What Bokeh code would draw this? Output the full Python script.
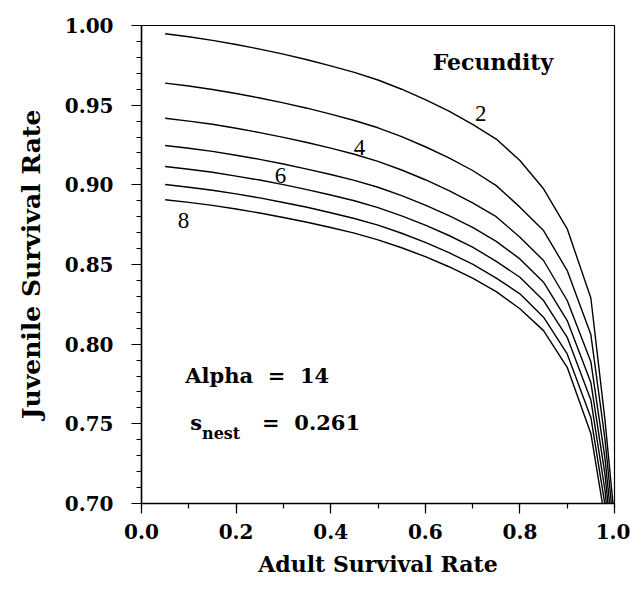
from bokeh.plotting import figure
from bokeh.models import SingleIntervalTicker, NumeralTickFormatter, Label, Range1d
from bokeh.embed import file_html
from bokeh.resources import INLINE

# ---- data ----
adult_survival = [0.05, 0.10, 0.15, 0.20, 0.25, 0.30, 0.35, 0.40, 0.45, 0.50,
                  0.55, 0.60, 0.65, 0.70, 0.75, 0.80, 0.85, 0.90, 0.95, 0.98, 1.00]

juv_f2 = [0.9948, 0.9929, 0.9907, 0.9881, 0.9852, 0.9820, 0.9785, 0.9747, 0.9706, 0.9658,
          0.9600, 0.9535, 0.9462, 0.9380, 0.9287, 0.9153, 0.8975, 0.8724, 0.8290, 0.752, 0.690]
juv_f3 = [0.9638, 0.9620, 0.9598, 0.9573, 0.9545, 0.9514, 0.9481, 0.9444, 0.9404, 0.9358,
          0.9302, 0.9239, 0.9169, 0.9090, 0.8995, 0.8860, 0.8713, 0.8462, 0.8060, 0.740, 0.680]
juv_f4 = [0.9418, 0.9400, 0.9380, 0.9355, 0.9328, 0.9298, 0.9266, 0.9230, 0.9192, 0.9147,
          0.9093, 0.9032, 0.8964, 0.8887, 0.8800, 0.8671, 0.8525, 0.8274, 0.7890, 0.728, 0.670]
juv_f5 = [0.9247, 0.9230, 0.9210, 0.9186, 0.9160, 0.9131, 0.9099, 0.9065, 0.9028, 0.8985,
          0.8932, 0.8873, 0.8807, 0.8733, 0.8645, 0.8535, 0.8389, 0.8148, 0.7760, 0.718, 0.660]
juv_f6 = [0.9115, 0.9098, 0.9079, 0.9055, 0.9030, 0.9001, 0.8970, 0.8936, 0.8900, 0.8857,
          0.8805, 0.8747, 0.8682, 0.8609, 0.8520, 0.8420, 0.8274, 0.8043, 0.7650, 0.708, 0.650]
juv_f7 = [0.9002, 0.8985, 0.8966, 0.8943, 0.8918, 0.8889, 0.8859, 0.8825, 0.8789, 0.8747,
          0.8696, 0.8639, 0.8574, 0.8502, 0.8415, 0.8316, 0.8169, 0.7939, 0.7540, 0.699, 0.640]
juv_f8 = [0.8906, 0.8890, 0.8871, 0.8848, 0.8823, 0.8795, 0.8765, 0.8732, 0.8697, 0.8655,
          0.8605, 0.8549, 0.8486, 0.8415, 0.8330, 0.8222, 0.8085, 0.7855, 0.7440, 0.690, 0.630]

series = [juv_f2, juv_f3, juv_f4, juv_f5, juv_f6, juv_f7, juv_f8]
curve_labels = ["2", "4", "6", "8"]

x_title = "Adult Survival Rate"
y_title = "Juvenile Survival Rate"
legend_title = "Fecundity"
NB = "\u00a0"
alpha_text = "Alpha " + NB + "= " + NB + "14"
snest_main = "s"
snest_sub = "nest"
snest_value = "= " + NB + "0.261"

SERIF = "DejaVu Serif"

p = figure(width=630, height=582,
           x_range=Range1d(0, 1), y_range=Range1d(0.70, 1.00),
           output_backend="svg", toolbar_location=None,
           min_border_left=141, min_border_right=16,
           min_border_top=25, min_border_bottom=79)
p.grid.visible = False
p.background_fill_color = "white"
p.border_fill_color = "white"
p.outline_line_color = "black"
p.outline_line_width = 1.2

for ys in series:
    p.line(adult_survival, ys, line_color="black", line_width=1.4)

p.xaxis.ticker = SingleIntervalTicker(interval=0.2, num_minor_ticks=2)
p.yaxis.ticker = SingleIntervalTicker(interval=0.05, num_minor_ticks=5)
p.xaxis.formatter = NumeralTickFormatter(format="0.0")
p.yaxis.formatter = NumeralTickFormatter(format="0.00")

for ax in (p.xaxis, p.yaxis):
    ax.axis_line_color = "black"
    ax.axis_line_width = 1.5
    ax.major_tick_line_color = "black"
    ax.minor_tick_line_color = "black"
    ax.major_tick_line_width = 1.2
    ax.minor_tick_line_width = 1.2
    ax.major_tick_in = 0
    ax.major_tick_out = 10
    ax.minor_tick_in = 0
    ax.minor_tick_out = 5
    ax.major_label_text_font = SERIF
    ax.major_label_text_font_size = "20px"
    ax.major_label_text_font_style = "bold"
    ax.major_label_text_color = "black"
    ax.axis_label_text_font = SERIF
    ax.axis_label_text_font_style = "bold"
    ax.axis_label_text_color = "black"

p.xaxis.axis_label = x_title
p.yaxis.axis_label = y_title
p.xaxis.axis_label_text_font_size = "22px"
p.yaxis.axis_label_text_font_size = "25px"
p.xaxis.major_label_standoff = 10
p.yaxis.major_label_standoff = 18
p.xaxis.axis_label_standoff = 9
p.yaxis.axis_label_standoff = 16

# curve labels
label_pos = [(0.717, 0.9446), (0.461, 0.9236), (0.294, 0.9058), (0.089, 0.8776)]
for txt, (lx, ly) in zip(curve_labels, label_pos):
    p.add_layout(Label(x=lx, y=ly, text=txt, text_font="Liberation Serif",
                       text_font_size="23px", text_align="center",
                       text_baseline="middle", text_color="black"))

p.add_layout(Label(x=0.743, y=0.977, text=legend_title, text_font=SERIF,
                   text_font_size="22px", text_font_style="bold",
                   text_align="center", text_baseline="alphabetic", text_color="black"))
p.add_layout(Label(x=0.0926, y=0.7803, text=alpha_text, text_font=SERIF,
                   text_font_size="21px", text_font_style="bold",
                   text_align="left", text_baseline="alphabetic", text_color="black"))
p.add_layout(Label(x=0.103, y=0.751, text=snest_main, text_font=SERIF,
                   text_font_size="21px", text_font_style="bold",
                   text_align="left", text_baseline="alphabetic", text_color="black"))
p.add_layout(Label(x=0.128, y=0.744, text=snest_sub, text_font=SERIF,
                   text_font_size="16px", text_font_style="bold",
                   text_align="left", text_baseline="alphabetic", text_color="black"))
p.add_layout(Label(x=0.255, y=0.751, text=snest_value, text_font=SERIF,
                   text_font_size="21px", text_font_style="bold",
                   text_align="left", text_baseline="alphabetic", text_color="black"))

open("out.html", "w").write(file_html(p, INLINE))
